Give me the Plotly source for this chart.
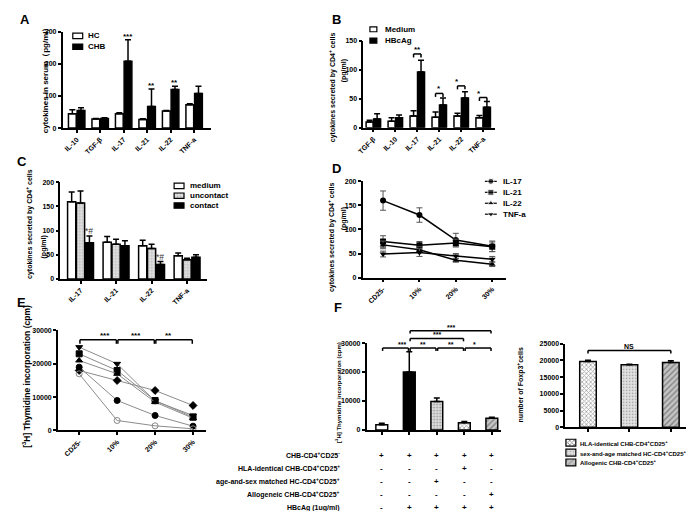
import plotly.graph_objects as go

W, H = 697, 511
FONT = "Liberation Sans"

# ---------------- data ----------------
# A: cytokines in serum
a_cats = ["IL-10", "TGF-β", "IL-17", "IL-21", "IL-22", "TNF-a"]
a_hc = [45, 28, 45, 27, 53, 73]
a_hc_err = [12, 2, 3, 2, 2, 3]
a_chb = [55, 30, 208, 67, 120, 108]
a_chb_err = [8, 2, 67, 55, 10, 22]
a_stars = ["", "", "***", "**", "**", ""]

# B: cytokines secreted by CD4+ cells, medium vs HBcAg
b_cats = ["TGF-β", "IL-10", "IL-17", "IL-21", "IL-22", "TNF-a"]
b_medium = [10, 11, 20, 18, 20, 17]
b_medium_err = [3, 6, 9, 9, 5, 4]
b_hbcag = [15, 17, 96, 39, 51, 35]
b_hbcag_err = [9, 5, 20, 12, 11, 10]
b_stars = ["", "", "**", "*", "*", "*"]
b_bracket_y = [None, None, 127, 59, 72, 52]

# C: medium / uncontact / contact
c_cats = ["IL-17", "IL-21", "IL-22", "TNF-a"]
c_medium = [160, 76, 69, 48]
c_medium_err = [20, 12, 11, 6]
c_uncontact = [157, 72, 63, 40]
c_uncontact_err = [25, 10, 9, 3]
c_contact = [75, 69, 30, 45]
c_contact_err = [14, 10, 6, 5]
c_marks = ["*#", "", "*#", ""]

# D: cytokines vs Treg ratio
d_cats = ["CD25-", "10%", "20%", "30%"]
d_il17 = [160, 130, 78, 65]
d_il17_err = [20, 15, 14, 11]
d_il21 = [75, 67, 72, 64]
d_il21_err = [12, 8, 8, 10]
d_il22 = [68, 58, 36, 28]
d_il22_err = [8, 6, 4, 5]
d_tnfa = [49, 52, 45, 38]
d_tnfa_err = [6, 8, 5, 6]

# E: thymidine incorporation, individual patients
e_cats = ["CD25-", "10%", "20%", "30%"]
e_p1 = [25000, 20000, 8800, 4500]
e_p2 = [23000, 18000, 9000, 4000]
e_p3 = [21000, 17000, 8500, 3700]
e_p4 = [18000, 15000, 12000, 7500]
e_p5 = [19000, 9000, 4500, 1300]
e_p6 = [17000, 3000, 1400, 500]
e_brackets = [(0, 1, 27200, "***"), (1, 2, 27200, "***"), (2, 3, 27200, "**")]

# F left: suppression assay
f_values = [1800, 20000, 9800, 2500, 4000]
f_err = [500, 7000, 1200, 400, 400]
f_brackets = [(0, 1, 28300, "***"), (1, 2, 28300, "**"), (2, 3, 28300, "**"),
              (3, 4, 28300, "*"), (1, 3, 31600, "***"), (1, 4, 34300, "***")]
table_labels = ["CHB-CD4<sup>+</sup>CD25<sup>-</sup>",
                "HLA-identical CHB-CD4<sup>+</sup>CD25<sup>+</sup>",
                "age-and-sex matched HC-CD4<sup>+</sup>CD25<sup>+</sup>",
                "Allogeneic CHB-CD4<sup>+</sup>CD25<sup>+</sup>",
                "HBcAg (1ug/ml)"]
table_signs = [["+", "+", "+", "+", "+"],
               ["-", "-", "-", "+", "-"],
               ["-", "-", "+", "-", "-"],
               ["-", "-", "-", "-", "+"],
               ["-", "+", "+", "+", "+"]]

# F right: Foxp3+ cells
g_values = [19700, 18700, 19400]
g_err = [400, 200, 500]
g_labels = ["HLA-identical CHB-CD4<sup>+</sup>CD25<sup>+</sup>",
            "sex-and-age matched HC-CD4<sup>+</sup>CD25<sup>+</sup>",
            "Allogenic CHB-CD4<sup>+</sup>CD25<sup>+</sup>"]

# ---------------- styles ----------------
TICKFONT = dict(family=FONT, size=7, color="black", weight="bold")
LINE = dict(color="black", width=1.5)
DOTS = dict(shape=".", fgcolor="#8a8a8a", bgcolor="#e2e2e2", size=3, solidity=0.3)
CHECK = dict(shape="x", fgcolor="black", bgcolor="white", size=3, solidity=0.45)
HATCH = dict(shape="/", fgcolor="#777777", bgcolor="#c4c4c4", size=4, solidity=0.35)

fig = go.Figure()

geo = {}


def sfx(n):
    return "" if n == 1 else str(n)


def add_axes(n, left, right, top, bot, xr, yr, dt, cats, labels=True):
    s = sfx(n)
    geo[n] = (xr, yr)
    xa = dict(domain=[left / W, right / W], range=list(xr), anchor="y" + s,
              showline=True, linecolor="black", linewidth=1.5,
              ticks="outside", ticklen=3, tickwidth=1.5, tickcolor="black",
              tickvals=list(range(len(cats))), tickangle=-45,
              showticklabels=labels, tickfont=TICKFONT,
              showgrid=False, zeroline=False)
    if labels:
        xa["ticktext"] = cats
    fig.update_layout(**{
        "xaxis" + s: xa,
        "yaxis" + s: dict(domain=[1 - bot / H, 1 - top / H], range=list(yr), anchor="x" + s,
                          showline=True, linecolor="black", linewidth=1.5,
                          ticks="outside", ticklen=3, tickwidth=1.5, tickcolor="black",
                          tick0=0, dtick=dt, tickformat="d", tickfont=TICKFONT,
                          showgrid=False, zeroline=False),
    })


def bars(n, vals, errs, off, width, color, pattern=None):
    s = sfx(n)
    mk = dict(color=color, line=LINE)
    if pattern:
        mk["pattern"] = pattern
    fig.add_trace(go.Bar(
        x=list(range(len(vals))), y=vals, offset=off, width=width,
        xaxis="x" + s, yaxis="y" + s, marker=mk, showlegend=False,
        error_y=dict(type="data", array=errs, arrayminus=[0] * len(errs), symmetric=False,
                     color="black", thickness=1.5, width=3)))


def bracket(n, xa, xb, y, drop, text, fs=8, lw=1.5):
    s = sfx(n)
    xr, yr = geo[n]
    fx = lambda v: (v - xr[0]) / (xr[1] - xr[0])
    fy = lambda v: (v - yr[0]) / (yr[1] - yr[0])
    for x0, y0, x1, y1 in [(xa, y - drop, xa, y), (xa, y, xb, y), (xb, y, xb, y - drop)]:
        fig.add_shape(type="line", xref="x" + s + " domain", yref="y" + s + " domain",
                      x0=fx(x0), y0=fy(y0), x1=fx(x1), y1=fy(y1),
                      line=dict(color="black", width=lw))
    fig.add_annotation(xref="x" + s + " domain", yref="y" + s + " domain",
                       x=fx((xa + xb) / 2), y=fy(y), text=text, showarrow=False,
                       yanchor="bottom", yshift=-2,
                       font=dict(family=FONT, size=fs, color="black", weight="bold"))


def text(x, y, t, size=8, angle=0, xanchor="center", weight="bold"):
    fig.add_annotation(x=x / W, y=1 - y / H, xref="paper", yref="paper",
                       text=t, showarrow=False, textangle=angle,
                       xanchor=xanchor, yanchor="middle",
                       font=dict(family=FONT, size=size, color="black", weight=weight))


# ---------------- axes ----------------
add_axes(1, 49, 199, 20, 117.7, (-0.6, 5.73), (0, 300), 100, a_cats)
add_axes(2, 352.3, 485, 29, 117.3, (-0.46, 5.53), (0, 150), 50, b_cats)
add_axes(3, 46.7, 195, 172.7, 270.7, (-0.57, 3.57), (0, 200), 50, c_cats)
add_axes(4, 351.7, 496.7, 171.7, 269.3, (-0.56, 3.39), (0, 200), 50, d_cats)
add_axes(5, 44.3, 194, 322.9, 424.3, (-0.56, 3.35), (0, 30000), 10000, e_cats)
add_axes(6, 355.7, 491.7, 335.7, 423.7, (-0.55, 4.35), (0, 30000), 10000,
         f_values, labels=False)
add_axes(7, 556, 678, 336.4, 421, (-0.55, 2.37), (0, 25000), 5000,
         g_values, labels=False)
# pixel-space overlay, only for legend keys
fig.update_layout(xaxis8=dict(domain=[0, 1], range=[0, W], visible=False, anchor="y8"),
                  yaxis8=dict(domain=[0, 1], range=[H, 0], visible=False, anchor="x8"))

# ---------------- A ----------------
bars(1, a_hc, a_hc_err, -0.35, 0.33, "white")
bars(1, a_chb, a_chb_err, 0.02, 0.33, "black")
for i, st in enumerate(a_stars):
    if st:
        fig.add_annotation(x=i + 0.185, y=a_chb[i] + a_chb_err[i], xref="x", yref="y",
                           text=st, showarrow=False, yanchor="bottom", yshift=-3,
                           font=dict(family=FONT, size=8, color="black", weight="bold"))

# ---------------- B ----------------
bars(2, b_medium, b_medium_err, -0.33, 0.32, "white")
bars(2, b_hbcag, b_hbcag_err, 0.01, 0.32, "black")
for i, st in enumerate(b_stars):
    if st:
        bracket(2, i - 0.17, i + 0.17, b_bracket_y[i], 6, st)

# ---------------- C ----------------
bars(3, c_medium, c_medium_err, -0.365, 0.23, "white")
bars(3, c_uncontact, c_uncontact_err, -0.115, 0.23, "#e2e2e2", DOTS)
bars(3, c_contact, c_contact_err, 0.135, 0.23, "black")
for i, m in enumerate(c_marks):
    if m:
        fig.add_annotation(x=i + 0.25, y=c_contact[i] + c_contact_err[i], xref="x3", yref="y3",
                           text=m, showarrow=False, yanchor="bottom", yshift=-2,
                           font=dict(family=FONT, size=8.5, color="#333333"))

# ---------------- D ----------------
d_series = [(d_il17, d_il17_err, "circle", "IL-17"), (d_il21, d_il21_err, "square", "IL-21"),
            (d_il22, d_il22_err, "triangle-up", "IL-22"), (d_tnfa, d_tnfa_err, "triangle-down", "TNF-a")]
for vals, errs, sym, name in d_series:
    fig.add_trace(go.Scatter(x=list(range(len(vals))), y=vals, xaxis="x4", yaxis="y4",
                             mode="lines+markers", showlegend=False,
                             line=dict(color="black", width=1.5),
                             marker=dict(symbol=sym, size=6, color="black"),
                             error_y=dict(type="data", array=errs, color="#555555",
                                          thickness=1, width=3)))

# ---------------- E ----------------
e_series = [(e_p1, "triangle-down", "black"), (e_p2, "square", "black"),
            (e_p3, "triangle-up", "black"), (e_p4, "diamond", "black"),
            (e_p5, "circle", "black"), (e_p6, "circle-open", "#888888")]
for vals, sym, col in e_series:
    fig.add_trace(go.Scatter(x=list(range(len(vals))), y=vals, xaxis="x5", yaxis="y5",
                             mode="lines+markers", showlegend=False,
                             line=dict(color="#8c8c8c", width=1),
                             marker=dict(symbol=sym, size=6, color=col,
                                         line=dict(color=col, width=1))))
for xa, xb, y, st in e_brackets:
    bracket(5, xa + 0.02, xb - 0.02, y, 1200, st)

# ---------------- F left ----------------
fig.add_trace(go.Bar(
    x=list(range(len(f_values))), y=f_values, width=0.43, xaxis="x6", yaxis="y6",
    showlegend=False,
    marker=dict(color=["white", "black", "#e2e2e2", "white", "#c4c4c4"], line=LINE,
                pattern=dict(shape=["", "", ".", "x", "/"],
                             fgcolor=["black", "black", "#8a8a8a", "black", "#777777"],
                             bgcolor=["white", "black", "#e2e2e2", "white", "#c4c4c4"],
                             size=[4, 4, 3, 3, 4], solidity=[0.3, 0.3, 0.3, 0.45, 0.35])),
    error_y=dict(type="data", array=f_err, arrayminus=[0] * len(f_err), symmetric=False,
                 color="black", thickness=1.5, width=3)))
for xa, xb, y, st in f_brackets:
    bracket(6, xa + 0.03, xb - 0.03, y, 1000, st, fs=7)

for r, lab in enumerate(table_labels):
    ypx = 449.3 + r * 13.35
    text(331, ypx, lab, size=7, xanchor="right")
    for j, sg in enumerate(table_signs[r]):
        fig.add_annotation(x=j, y=1 - ypx / H, xref="x6", yref="paper", text=sg,
                           showarrow=False, yanchor="middle",
                           font=dict(family=FONT, size=8, color="black", weight="bold"))

# ---------------- F right ----------------
fig.add_trace(go.Bar(
    x=list(range(len(g_values))), y=g_values, width=0.4, xaxis="x7", yaxis="y7",
    showlegend=False,
    marker=dict(color=["white", "#e2e2e2", "#c4c4c4"], line=LINE,
                pattern=dict(shape=["x", ".", "/"],
                             fgcolor=["black", "#b0b0b0", "#777777"],
                             bgcolor=["white", "#e2e2e2", "#c4c4c4"],
                             size=[3, 3, 4], solidity=[0.45, 0.2, 0.35])),
    error_y=dict(type="data", array=g_err, arrayminus=[0] * len(g_err), symmetric=False,
                 color="black", thickness=1.5, width=3)))
bracket(7, 0, 2, 23000, 900, "NS", fs=7)

# ---------------- legends (keys on pixel overlay) ----------------
def key_box(cx, top, w, h, color, pattern=None):
    mk = dict(color=color, line=dict(color="black", width=1.2))
    if pattern:
        mk["pattern"] = pattern
    fig.add_trace(go.Bar(x=[cx], y=[h], base=[top], width=[w], xaxis="x8", yaxis="y8",
                         marker=mk, showlegend=False))


key_box(64.3, 21.5, 10, 5.5, "white"); text(73, 24.2, "HC", 8, xanchor="left")
key_box(64.3, 32.5, 10, 5.5, "black"); text(73, 35.2, "CHB", 8, xanchor="left")
key_box(362.5, 15, 7, 5, "white"); text(372, 17.5, "Medium", 8, xanchor="left")
key_box(362.5, 26.5, 7, 5, "black"); text(372, 29, "HBcAg", 8, xanchor="left")
key_box(166.5, 173.5, 10, 5.5, "white"); text(176, 176.2, "medium", 8, xanchor="left")
key_box(166.5, 183.5, 10, 5.5, "#e2e2e2", DOTS); text(176, 186.2, "uncontact", 8, xanchor="left")
key_box(166.5, 193.5, 10, 5.5, "black"); text(176, 196.2, "contact", 8, xanchor="left")
for k, (vals, errs, sym, name) in enumerate(d_series):
    yy = 171.7 + k * 11.1
    fig.add_trace(go.Scatter(x=[475, 481, 487], y=[yy, yy, yy], xaxis="x8", yaxis="y8",
                             mode="lines+markers", showlegend=False,
                             line=dict(color="black", width=1.2),
                             marker=dict(symbol=sym, size=[0, 6, 0], color="black")))
    text(491, yy, name, 8, xanchor="left")
for k, (lab, col, pat) in enumerate(zip(g_labels, ["white", "#e2e2e2", "#c4c4c4"],
                                        [CHECK, DOTS, HATCH])):
    yy = 436.7 + k * 10
    key_box(561.7, yy - 3.5, 10, 7, col, pat)
    text(569, yy, lab, 6, xanchor="left")

# ---------------- axis titles ----------------
text(31.5, 67, "cytokines in serum（pg/ml）", 8, angle=-90)
text(322, 76, "cytokines secreted by CD4<sup>+</sup> cells", 7, angle=-90)
text(333, 60, "(pg/ml)", 7, angle=-90)
text(15, 215, "cytokines secreted by CD4<sup>+</sup> cells", 7, angle=-90)
text(30, 238, "(pg/ml)", 7, angle=-90)
text(321, 228, "cytokines secreted by CD4<sup>+</sup> cells", 7, angle=-90)
text(333, 210, "(pg/ml)", 7, angle=-90)
text(13, 369, "[<sup>3</sup>H] Thymidine incorporation (cpm)", 8.5, angle=-90)
text(327, 386, "[<sup>3</sup>H] Thymidine incorporation (cpm)", 6, angle=-90)
text(511, 378, "number of Foxp3<sup>+</sup>cells", 7, angle=-90)

# ---------------- panel letters ----------------
for lab, x, y in [("A", 11, 8), ("B", 325, 8), ("C", 8, 152), ("D", 325, 159),
                  ("E", 8, 295), ("F", 327, 300)]:
    text(x, y, lab, 13)

fig.update_layout(width=W, height=H, margin=dict(l=0, r=0, t=0, b=0),
                  paper_bgcolor="white", plot_bgcolor="rgba(0,0,0,0)",
                  barmode="overlay", showlegend=False,
                  font=dict(family=FONT, color="black"))
fig.write_html("out.html")
